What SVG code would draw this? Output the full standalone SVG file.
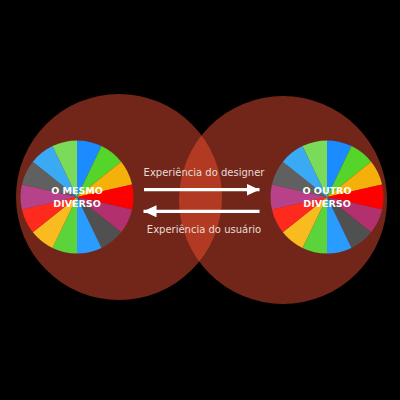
<svg xmlns="http://www.w3.org/2000/svg" xmlns:xlink="http://www.w3.org/1999/xlink" width="400" height="400" viewBox="0 0 400 400">
<style>
.big{fill:#722619}
.lens{fill:#b23a22}
.lbl{font-family:"DejaVu Sans",Verdana,sans-serif;font-weight:bold;font-size:9.5px;fill:#fff;text-anchor:middle}
.arrtxt{font-family:"DejaVu Sans",Verdana,sans-serif;font-size:10px;fill:#e8dcd6;text-anchor:middle}
.arr{stroke:#fff;stroke-width:3.3;fill:none}
</style>
<defs>
<clipPath id="clipL"><circle cx="119" cy="197" r="103"/></clipPath>
<marker id="ah" viewBox="0 0 13 12" refX="13" refY="6" markerWidth="13" markerHeight="12" markerUnits="userSpaceOnUse" orient="auto">
<path d="M0,0 L13,6 L0,12 Z" fill="#fff"/>
</marker>
<g id="wheel">
<path d="M0,0 L0,-56.5 A56.5,56.5 0 0 1 24.51,-50.9 Z" fill="#1a8cff"/>
<path d="M0,0 L24.51,-50.9 A56.5,56.5 0 0 1 44.17,-35.23 Z" fill="#55d42a"/>
<path d="M0,0 L44.17,-35.23 A56.5,56.5 0 0 1 55.08,-12.57 Z" fill="#f5b00a"/>
<path d="M0,0 L55.08,-12.57 A56.5,56.5 0 0 1 55.08,12.57 Z" fill="#ff0000"/>
<path d="M0,0 L55.08,12.57 A56.5,56.5 0 0 1 44.17,35.23 Z" fill="#b3306e"/>
<path d="M0,0 L44.17,35.23 A56.5,56.5 0 0 1 24.51,50.9 Z" fill="#505050"/>
<path d="M0,0 L24.51,50.9 A56.5,56.5 0 0 1 0,56.5 Z" fill="#2b9cff"/>
<path d="M0,0 L0,56.5 A56.5,56.5 0 0 1 -24.51,50.9 Z" fill="#5ad43a"/>
<path d="M0,0 L-24.51,50.9 A56.5,56.5 0 0 1 -44.17,35.23 Z" fill="#f8bb20"/>
<path d="M0,0 L-44.17,35.23 A56.5,56.5 0 0 1 -55.08,12.57 Z" fill="#ff2a1e"/>
<path d="M0,0 L-55.08,12.57 A56.5,56.5 0 0 1 -55.08,-12.57 Z" fill="#b8428a"/>
<path d="M0,0 L-55.08,-12.57 A56.5,56.5 0 0 1 -44.17,-35.23 Z" fill="#606060"/>
<path d="M0,0 L-44.17,-35.23 A56.5,56.5 0 0 1 -24.51,-50.9 Z" fill="#3aaaf5"/>
<path d="M0,0 L-24.51,-50.9 A56.5,56.5 0 0 1 0,-56.5 Z" fill="#7ada5a"/>
</g>
</defs>
<rect width="400" height="400" fill="#000"/>
<g id="mesmo">
<circle class="big" cx="119" cy="197" r="103"/>
</g>
<g id="outro">
<circle class="big" cx="283" cy="200" r="104"/>
</g>
<g id="overlap">
<circle class="lens" cx="283" cy="200" r="104" clip-path="url(#clipL)"/>
</g>
<g id="mesmo-wheel">
<use xlink:href="#wheel" transform="translate(77,197)"/>
<text class="lbl" x="77" y="194.3">O MESMO</text>
<text class="lbl" x="77" y="206.7">DIVERSO</text>
</g>
<g id="outro-wheel">
<use xlink:href="#wheel" transform="translate(327,197)"/>
<text class="lbl" x="327" y="194.3">O OUTRO</text>
<text class="lbl" x="327" y="206.7">DIVERSO</text>
</g>
<g id="connectors">
<line class="arr" x1="144" y1="189.7" x2="259.5" y2="189.7" marker-end="url(#ah)"/>
<line class="arr" x1="259.5" y1="211.3" x2="143.5" y2="211.3" marker-end="url(#ah)"/>
<text class="arrtxt" x="204" y="175.5">Experiência do designer</text>
<text class="arrtxt" x="204" y="233.3">Experiência do usuário</text>
</g>
</svg>
